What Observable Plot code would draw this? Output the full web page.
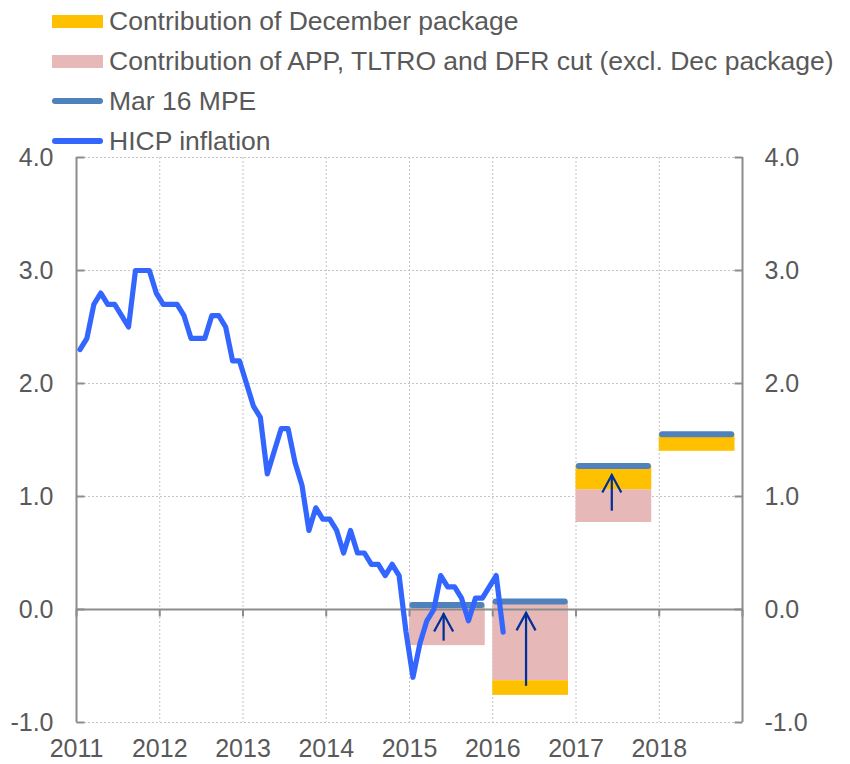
<!DOCTYPE html>
<html>
<head>
<meta charset="utf-8">
<script src="https://cdn.jsdelivr.net/npm/d3@7"></script>
<script src="https://cdn.jsdelivr.net/npm/@observablehq/plot@0.6"></script>
<style>
  html, body { margin: 0; padding: 0; background: #fff; }
  #wrap { position: relative; width: 850px; height: 764px; font-family: 'Liberation Sans', Arial, sans-serif; color: #595959; }
  #legend { position: absolute; left: 0; top: 0; pointer-events: none; }
  .row { position: absolute; left: 0; height: 30px; width: 850px; }
  .sw { position: absolute; left: 52px; width: 51px; }
  .lab { position: absolute; left: 109px; top: 0; line-height: 30px; font-size: 26.5px; white-space: nowrap; }
</style>
</head>
<body>
<div id="wrap"><div id="chart"></div><div id="legend"></div></div>
<script>
// ---------- data ----------
// HICP inflation, monthly, Jan 2011 .. Feb 2016 (% y-o-y)
const hicpStart = 2011;
const hicp = [
  2.3, 2.4, 2.7, 2.8, 2.7, 2.7, 2.6, 2.5, 3.0, 3.0, 3.0, 2.8,
  2.7, 2.7, 2.7, 2.6, 2.4, 2.4, 2.4, 2.6, 2.6, 2.5, 2.2, 2.2,
  2.0, 1.8, 1.7, 1.2, 1.4, 1.6, 1.6, 1.3, 1.1, 0.7, 0.9, 0.8,
  0.8, 0.7, 0.5, 0.7, 0.5, 0.5, 0.4, 0.4, 0.3, 0.4, 0.3, -0.2,
  -0.6, -0.3, -0.1, 0.0, 0.3, 0.2, 0.2, 0.1, -0.1, 0.1, 0.1, 0.2,
  0.3, -0.2
];
// Annual projection blocks
const barYears = [2015, 2016, 2017, 2018];
const mpe      = [0.04, 0.07, 1.27, 1.55];           // Mar 16 MPE
const appHigh  = [0.04, 0.07, 1.06, null];           // APP, TLTRO, DFR cut (excl. Dec)
const appLow   = [-0.32, -0.63, 0.77, null];
const decHigh  = [null, -0.63, 1.27, 1.55];          // December package
const decLow   = [null, -0.76, 1.06, 1.40];
// Arrows
const arrowX    = [2015.41, 2016.40, 2017.43];
const arrowFrom = [-0.28, -0.68, 0.87];
const arrowTo   = [-0.04, -0.03, 1.19];
// Axis ticks
const yTicks = [-1, 0, 1, 2, 3, 4];
const xTicks = [2011, 2012, 2013, 2014, 2015, 2016, 2017, 2018];
const xDomain = [2011, 2019];
const yDomain = [-1, 4];

// ---------- styles ----------
const C = {
  yellow: "#FFC000", pink: "#E6B9B8", mpe: "#4F81BD", hicp: "#3366FF",
  arrow: "#00309A", axis: "#8C8C8C", grid: "#C4C4C4", text: "#595959"
};
const blockWidth = 0.91;

// ---------- tables ----------
const months = hicp.map((v, i) => ({t: hicpStart + (i + 0.5) / 12, v}));
const blocks = barYears.map((y, i) => ({
  year: y, mpe: mpe[i], appHigh: appHigh[i], appLow: appLow[i], decHigh: decHigh[i], decLow: decLow[i]
}));
const arrows = arrowX.map((x, i) => ({x, from: arrowFrom[i], to: arrowTo[i]}));
const gridYears = d3.range(xDomain[0] + 1, xDomain[1]);
const allYears = d3.range(xDomain[0], xDomain[1] + 1);

const tickShape = {draw(ctx, l) { ctx.moveTo(0, 0); ctx.lineTo(0, -l); }};
const chevron = {draw(ctx) { ctx.moveTo(-9.5, 17.5); ctx.lineTo(0, 0); ctx.lineTo(9.5, 17.5); }};

const chart = Plot.plot({
  width: 850,
  height: 764,
  marginTop: 157,
  marginBottom: 42,
  marginLeft: 76,
  marginRight: 108,
  style: {fontFamily: "'Liberation Sans', Arial, sans-serif", fontSize: "25px", color: C.text, background: "transparent", overflow: "visible"},
  x: {domain: xDomain, label: null},
  y: {domain: yDomain, label: null},
  marks: [
    // grid
    Plot.ruleY(yTicks, {stroke: C.grid, strokeWidth: 1, strokeDasharray: "2,2"}),
    Plot.ruleX(gridYears, {stroke: C.grid, strokeWidth: 1, strokeDasharray: "2,2"}),
    // blocks
    Plot.rectY(blocks.filter(d => d.appHigh != null), {x1: "year", x2: d => d.year + blockWidth, y1: "appLow", y2: "appHigh", fill: C.pink}),
    Plot.rectY(blocks.filter(d => d.decHigh != null), {x1: "year", x2: d => d.year + blockWidth, y1: "decLow", y2: "decHigh", fill: C.yellow}),
    // zero line + ticks
    Plot.ruleY([0], {stroke: C.axis, strokeWidth: 2}),
    Plot.vector(allYears, {x: d => d, y: 0, length: 7, rotate: 180, anchor: "start", shape: tickShape, stroke: C.axis, strokeWidth: 2, strokeLinecap: "butt"}),
    // side axes
    Plot.ruleX(xDomain, {stroke: C.axis, strokeWidth: 2}),
    Plot.vector(yTicks, {y: d => d, frameAnchor: "left", length: 8, rotate: 90, anchor: "start", shape: tickShape, stroke: C.axis, strokeWidth: 2, strokeLinecap: "butt"}),
    Plot.vector(yTicks, {y: d => d, frameAnchor: "right", length: 8, rotate: -90, anchor: "start", shape: tickShape, stroke: C.axis, strokeWidth: 2, strokeLinecap: "butt"}),
    // MPE
    Plot.ruleY(blocks, {x1: d => d.year + 0.04, x2: d => d.year + 0.87, y: "mpe", stroke: C.mpe, strokeWidth: 6, strokeLinecap: "round"}),
    // HICP
    Plot.line(months, {x: "t", y: "v", stroke: C.hicp, strokeWidth: 5.2, strokeLinejoin: "round", strokeLinecap: "round"}),
    // arrows
    Plot.ruleX(arrows, {x: "x", y1: "from", y2: "to", stroke: C.arrow, strokeWidth: 2.25}),
    Plot.dot(arrows, {x: "x", y: "to", r: 5, symbol: chevron, fill: "none", stroke: C.arrow, strokeWidth: 2.25, strokeLinejoin: "miter"}),
    // axes labels
    Plot.axisY(yTicks, {anchor: "left", tickSize: 0, tickPadding: 23, tickFormat: d => d.toFixed(1), label: null}),
    Plot.axisY(yTicks, {anchor: "right", tickSize: 0, tickPadding: 22, tickFormat: d => d.toFixed(1), label: null}),
    Plot.axisX(xTicks, {anchor: "bottom", tickSize: 0, tickPadding: 17, tickFormat: d => String(d), label: null})
  ]
});
document.getElementById("chart").append(chart);

// ---------- legend ----------
const legendItems = [
  {label: "Contribution of December package", color: C.yellow, kind: "rect"},
  {label: "Contribution of APP, TLTRO and DFR cut (excl. Dec package)", color: C.pink, kind: "rect"},
  {label: "Mar 16 MPE", color: C.mpe, kind: "line"},
  {label: "HICP inflation", color: C.hicp, kind: "line"}
];
const legend = document.getElementById("legend");
legendItems.forEach((it, i) => {
  const row = document.createElement("div");
  row.className = "row";
  row.style.top = (6 + i * 40) + "px";
  const sw = document.createElement("div");
  sw.className = "sw";
  sw.style.background = it.color;
  if (it.kind === "rect") { sw.style.height = "13px"; sw.style.top = "9px"; }
  else { sw.style.height = "6px"; sw.style.top = "12px"; sw.style.borderRadius = "3px"; }
  const lab = document.createElement("div");
  lab.className = "lab";
  lab.textContent = it.label;
  row.append(sw, lab);
  legend.append(row);
});
</script>
</body>
</html>
